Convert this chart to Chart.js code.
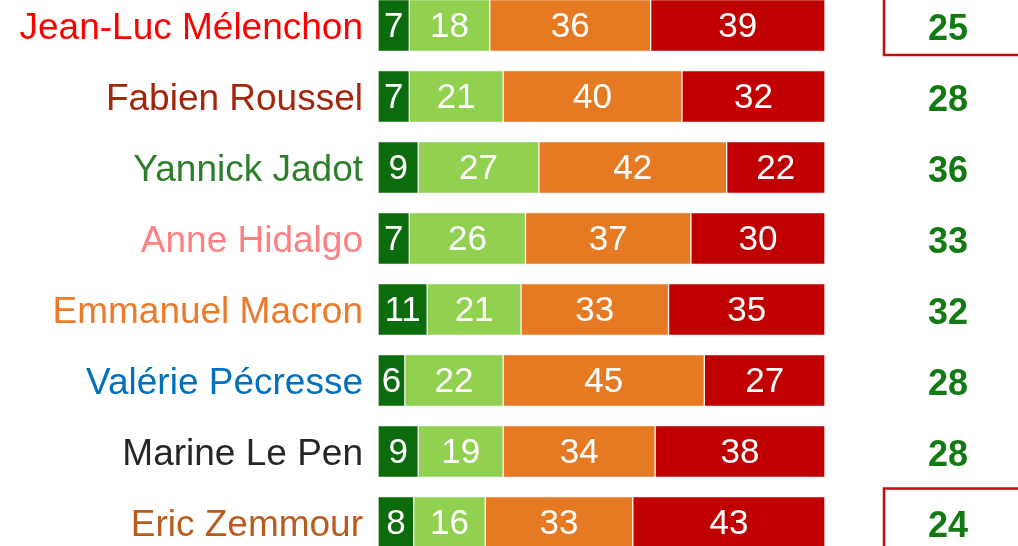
<!DOCTYPE html>
<html lang="fr">
<head>
<meta charset="utf-8">
<script src="https://cdn.jsdelivr.net/npm/chart.js@4/dist/chart.umd.min.js"></script>
<style>
  html, body { margin: 0; padding: 0; background: #fff; overflow: hidden; width: 1018px; height: 546px; }
  #wrap { position: absolute; left: 0; top: -10px; width: 1018px; height: 568px; }
</style>
</head>
<body>
<div id="wrap"><canvas id="c" width="1018" height="568"></canvas></div>
<script>
// Candidats, dans l'ordre d'affichage
const candidats = ["Jean-Luc Mélenchon", "Fabien Roussel", "Yannick Jadot", "Anne Hidalgo",
                   "Emmanuel Macron", "Valérie Pécresse", "Marine Le Pen", "Eric Zemmour"];
const couleursNoms = ["#ff0000", "#a3260c", "#2b7f2b", "#ff8080",
                      "#ec7a2a", "#0070c0", "#262626", "#b85c1e"];

// Répartition des réponses (%)
const tresBien   = [7, 7, 9, 7, 11, 6, 9, 8];
const plutotBien = [18, 21, 27, 26, 21, 22, 19, 16];
const plutotMal  = [36, 40, 42, 37, 33, 45, 34, 33];
const tresMal    = [39, 32, 22, 30, 35, 27, 38, 43];

// Total des opinions favorables, colonne de droite
const favorables = [25, 28, 36, 33, 32, 28, 28, 24];
// Lignes encadrées en rouge
const encadres = [0, 7];

const couleursSeries = ["#0c6b0c", "#92d050", "#e67a22", "#c00000"];

const FONT = "'Liberation Sans', Arial, sans-serif";

const plugin = {
  id: 'annotations',
  afterDatasetsDraw(chart) {
    const ctx = chart.ctx;
    const y = chart.scales.y;
    ctx.save();
    // valeurs dans les barres
    ctx.fillStyle = '#ffffff';
    ctx.font = '35px ' + FONT;
    ctx.textAlign = 'center';
    ctx.textBaseline = 'middle';
    chart.data.datasets.forEach((ds, di) => {
      const meta = chart.getDatasetMeta(di);
      meta.data.forEach((bar, i) => {
        const cx = (bar.x + bar.base) / 2;
        ctx.fillText(String(ds.data[i]), cx, bar.y + 2);
      });
    });
    // noms des candidats
    ctx.font = '37px ' + FONT;
    ctx.textAlign = 'right';
    candidats.forEach((nom, i) => {
      ctx.fillStyle = couleursNoms[i];
      ctx.fillText(nom, chart.chartArea.left - 15, y.getPixelForValue(i) + 3);
    });
    // colonne des favorables
    ctx.font = 'bold 36px ' + FONT;
    ctx.textAlign = 'center';
    ctx.fillStyle = '#137a13';
    favorables.forEach((v, i) => {
      ctx.fillText(String(v), 948, y.getPixelForValue(i) + 4.5);
    });
    // encadrés
    ctx.strokeStyle = '#c8070d';
    ctx.lineWidth = 2.5;
    encadres.forEach(i => {
      const cy = y.getPixelForValue(i);
      ctx.strokeRect(884, cy - 34, 200, 63.5);
    });
    ctx.restore();
  }
};

new Chart(document.getElementById('c'), {
  type: 'bar',
  data: {
    labels: candidats,
    datasets: [tresBien, plutotBien, plutotMal, tresMal].map((d, k) => ({
      data: d,
      backgroundColor: couleursSeries[k],
      borderColor: '#f4f4f4',
      borderWidth: 1,
      borderSkipped: false,
      barThickness: 52
    }))
  },
  options: {
    indexAxis: 'y',
    responsive: false,
    animation: false,
    layout: { padding: { left: 378, right: 193, top: 0, bottom: 0 } },
    scales: {
      x: { stacked: true, min: 0, max: 100, display: false },
      y: { stacked: true, display: false }
    },
    plugins: { legend: { display: false }, tooltip: { enabled: false } }
  },
  plugins: [plugin]
});
</script>
</body>
</html>
